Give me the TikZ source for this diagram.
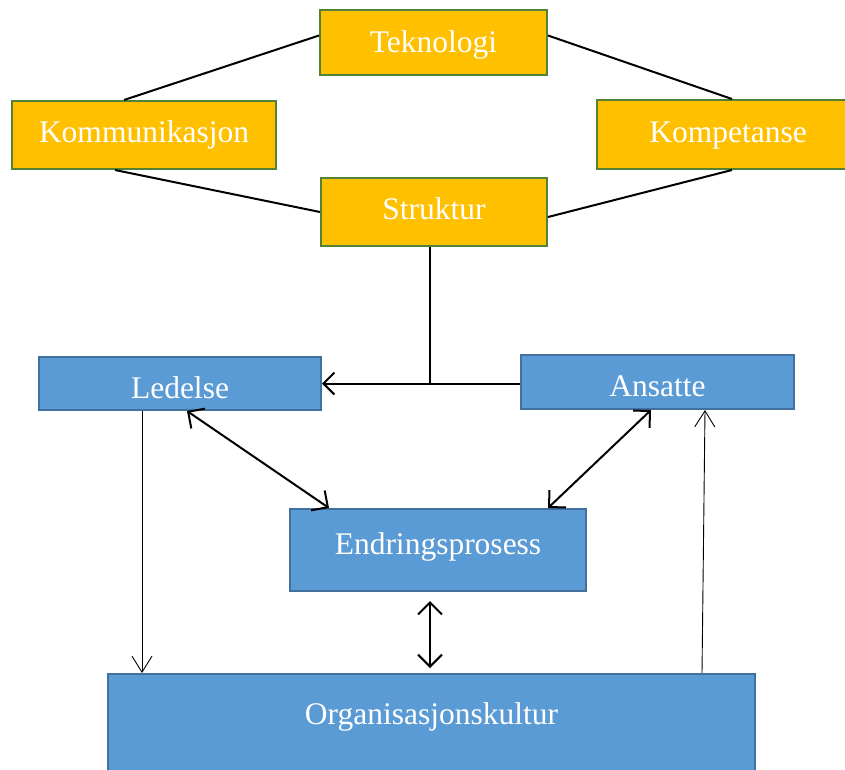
\documentclass[tikz,border=0pt]{standalone}
\usepackage{fontspec}
\setmainfont{Liberation Serif}
\usetikzlibrary{arrows.meta,calc}
\definecolor{orfill}{HTML}{FFC000}
\definecolor{ordraw}{HTML}{538135}
\definecolor{blfill}{HTML}{5B9BD5}
\definecolor{bldraw}{HTML}{41719C}
\tikzset{
  obox/.style={draw=ordraw, fill=orfill, line width=2pt, inner sep=0pt, text=white,
    font=\fontsize{31.5}{36}\selectfont, text height=22pt, text depth=7pt},
  bbox/.style={draw=bldraw, fill=blfill, line width=2pt, inner sep=0pt, text=white,
    font=\fontsize{31.5}{36}\selectfont, text height=22pt, text depth=7pt},
  conn/.style={line width=2pt, black},
  thin/.style={line width=0.9pt, black},
  bigtip/.style={-{Straight Barb[length=11pt,width=22pt,line width=2pt]}},
  dbltip/.style={{Straight Barb[length=12pt,width=24pt,line width=2pt]}-{Straight Barb[length=12pt,width=24pt,line width=2pt]}},
  smalltip/.style={-{Straight Barb[length=16pt,width=20pt,line width=0.9pt]}}
}
\begin{document}
\begin{tikzpicture}[x=1pt,y=-1pt]
\useasboundingbox (0,0) rectangle (845,769);
% orange boxes
\node[obox, minimum width=227pt, minimum height=65pt, text height=24pt, text depth=5pt] (tek) at (433.5,42.5) {Teknologi};
\node[obox, minimum width=264pt, minimum height=68pt] (kom) at (144,135) {Kommunikasjon};
\node[obox, minimum width=262pt, minimum height=69pt] (kmp) at (728,134.5) {Kompetanse};
\node[obox, minimum width=226pt, minimum height=68pt] (str) at (434,212) {Struktur};
% blue boxes
\node[bbox, minimum width=282pt, minimum height=53pt, text height=29pt, text depth=0pt] (led) at (180,383.5) {Ledelse};
\node[bbox, minimum width=273pt, minimum height=54pt, text height=29pt, text depth=0pt] (ans) at (657.5,382) {Ansatte};
\node[bbox, minimum width=296pt, minimum height=82pt, text height=19pt, text depth=10pt] (end) at (438,550) {Endringsprosess};
\node[bbox, anchor=north, minimum width=647pt, text height=50pt, text depth=120pt] (org) at (431.5,673) {Organisasjonskultur};
% connectors between orange boxes
\draw[conn] ([yshift=7pt]tek.west) -- ([xshift=-20pt]kom.north);
\draw[conn] ([yshift=7pt]tek.east) -- ([xshift=4pt]kmp.north);
\draw[conn] ([xshift=-29pt]kom.south) -- (str.west);
\draw[conn] ([xshift=4pt]kmp.south) -- ([yshift=-5pt]str.east);
% Struktur to Ledelse/Ansatte
\coordinate (sb) at ([xshift=-4pt]str.south);
\coordinate (tee) at (sb |- led.east);
\draw[conn] (sb) -- (tee);
\draw[conn, bigtip] (ans.west |- led.east) -- (led.east);
% double arrows
\draw[conn, dbltip] ([xshift=7pt]led.south) -- ([xshift=-109pt]end.north);
\draw[conn, dbltip] ([xshift=-6.5pt]ans.south) -- ([xshift=110pt]end.north);
\draw[conn, dbltip, shorten <=9pt, shorten >=5pt] ([xshift=-8pt]end.south) -- ([xshift=-8pt]end.south |- org.north);
% thin arrows
\coordinate (ls) at ([xshift=-38pt]led.south);
\draw[thin, smalltip] (ls) -- (ls |- org.north);
\draw[thin, smalltip] ([xshift=270.5pt]org.north) -- ([xshift=47.5pt]ans.south);
\end{tikzpicture}
\end{document}
